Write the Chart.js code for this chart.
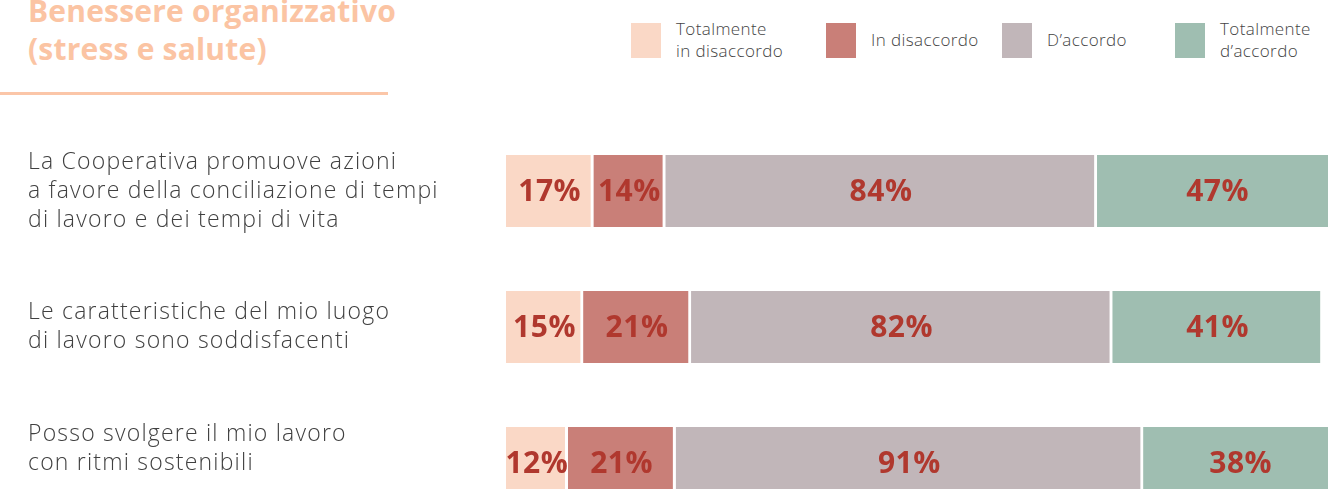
<!DOCTYPE html>
<html>
<head>
<meta charset="utf-8">
<script src="https://cdn.jsdelivr.net/npm/chart.js@4.4.0/dist/chart.umd.min.js"></script>
<style>
  html, body { margin: 0; padding: 0; background: #fff; overflow: hidden; }
  body { width: 1328px; height: 489px; position: relative; }
  #title {
    position: absolute; left: 28px; top: -8px; margin: 0;
    font: 700 30px/38px "Open Sans", sans-serif; color: #fbc4a3; letter-spacing: 0.2px;
  }
  #rule { position: absolute; left: 0; top: 92px; width: 388px; height: 3px; background: #fbc6a8; }
  #legend { position: absolute; left: 631px; top: 22px; display: flex; }
  .item { display: flex; align-items: center; height: 36px; }
  .item:nth-child(1) { width: 195px; }
  .item:nth-child(2) { width: 176px; }
  .item:nth-child(3) { width: 173px; }
  .swatch { width: 30px; height: 35px; margin-right: 15px; flex: none; }
  .text { font: 300 17px/22px "Open Sans", sans-serif; color: #444; letter-spacing: 0.4px; }
  #wrap { position: absolute; left: 0; top: 0; width: 1328px; height: 560px; }
</style>
</head>
<body>
<h1 id="title">Benessere organizzativo<br>(stress e salute)</h1>
<div id="rule"></div>
<div id="legend"></div>
<div id="wrap"><canvas id="myChart"></canvas></div>
<script>
const categories = [
    ['La Cooperativa promuove azioni', 'a favore della conciliazione di tempi', 'di lavoro e dei tempi di vita'],
    ['Le caratteristiche del mio luogo', 'di lavoro sono soddisfacenti'],
    ['Posso svolgere il mio lavoro', 'con ritmi sostenibili']
];
const seriesNames = [['Totalmente', 'in disaccordo'], ['In disaccordo'], ['D’accordo'], ['Totalmente', 'd’accordo']];
const totDisaccordo = [17, 15, 12];
const inDisaccordo = [14, 21, 21];
const dAccordo = [84, 82, 91];
const totAccordo = [47, 41, 38];
const colors = ['#fad8c6', '#c97f78', '#c1b6b9', '#9fbeb1'];

const values = [totDisaccordo, inDisaccordo, dAccordo, totAccordo];

// legend in html, multi-line names
const legend = document.getElementById('legend');
seriesNames.forEach((name, i) => {
    const item = document.createElement('div');
    item.className = 'item';
    item.innerHTML = `<span class="swatch" style="background:${colors[i]}"></span><span class="text">${name.join('<br>')}</span>`;
    legend.appendChild(item);
});

// percent inside each segment
const valueLabels = {
    id: 'valueLabels',
    afterDatasetsDraw(chart) {
        const ctx = chart.ctx;
        ctx.save();
        ctx.font = '700 30px "Open Sans", sans-serif';
        ctx.letterSpacing = '0.5px';
        ctx.fillStyle = '#b0382e';
        ctx.textAlign = 'center';
        ctx.textBaseline = 'middle';
        chart.data.datasets.forEach((ds, d) => {
            chart.getDatasetMeta(d).data.forEach((bar, i) => {
                ctx.fillText(ds.data[i] + '%', (bar.x + bar.base) / 2, bar.y + 1);
            });
        });
        ctx.restore();
    }
};

// question text on the left of each bar
const rowLabels = {
    id: 'rowLabels',
    afterDraw(chart) {
        const ctx = chart.ctx;
        const y = chart.scales.y;
        const lh = 29;
        ctx.save();
        ctx.font = '300 23px "Open Sans", sans-serif';
        ctx.letterSpacing = '1.2px';
        ctx.fillStyle = '#404040';
        ctx.textAlign = 'left';
        ctx.textBaseline = 'middle';
        categories.forEach((lines, i) => {
            let top = y.getPixelForValue(i) - (lines.length - 1) * lh / 2;
            // keep the last line clear of the bottom edge
            const last = top + (lines.length - 1) * lh;
            if (last > 463) top -= last - 463;
            lines.forEach((t, k) => ctx.fillText(t, 28, top + k * lh));
        });
        ctx.restore();
    }
};

const ctx = document.getElementById('myChart').getContext('2d');
const myChart = new Chart(ctx, {
    type: 'bar',
    data: {
        labels: categories.map(c => c.join(' ')),
        datasets: values.map((v, i) => ({
            label: seriesNames[i].join(' '),
            data: v,
            backgroundColor: colors[i],
            borderColor: '#ffffff',
            borderWidth: { right: 3 },
            borderSkipped: false,
            barThickness: 72
        }))
    },
    options: {
        indexAxis: 'y',
        responsive: true,
        maintainAspectRatio: false,
        animation: false,
        layout: { padding: { left: 506, right: 0, top: 123, bottom: 29 } },
        plugins: { legend: { display: false }, tooltip: { enabled: false } },
        scales: {
            x: { stacked: true, min: 0, max: 160, display: false },
            y: { stacked: true, display: false }
        }
    },
    plugins: [valueLabels, rowLabels]
});
</script>
</body>
</html>
